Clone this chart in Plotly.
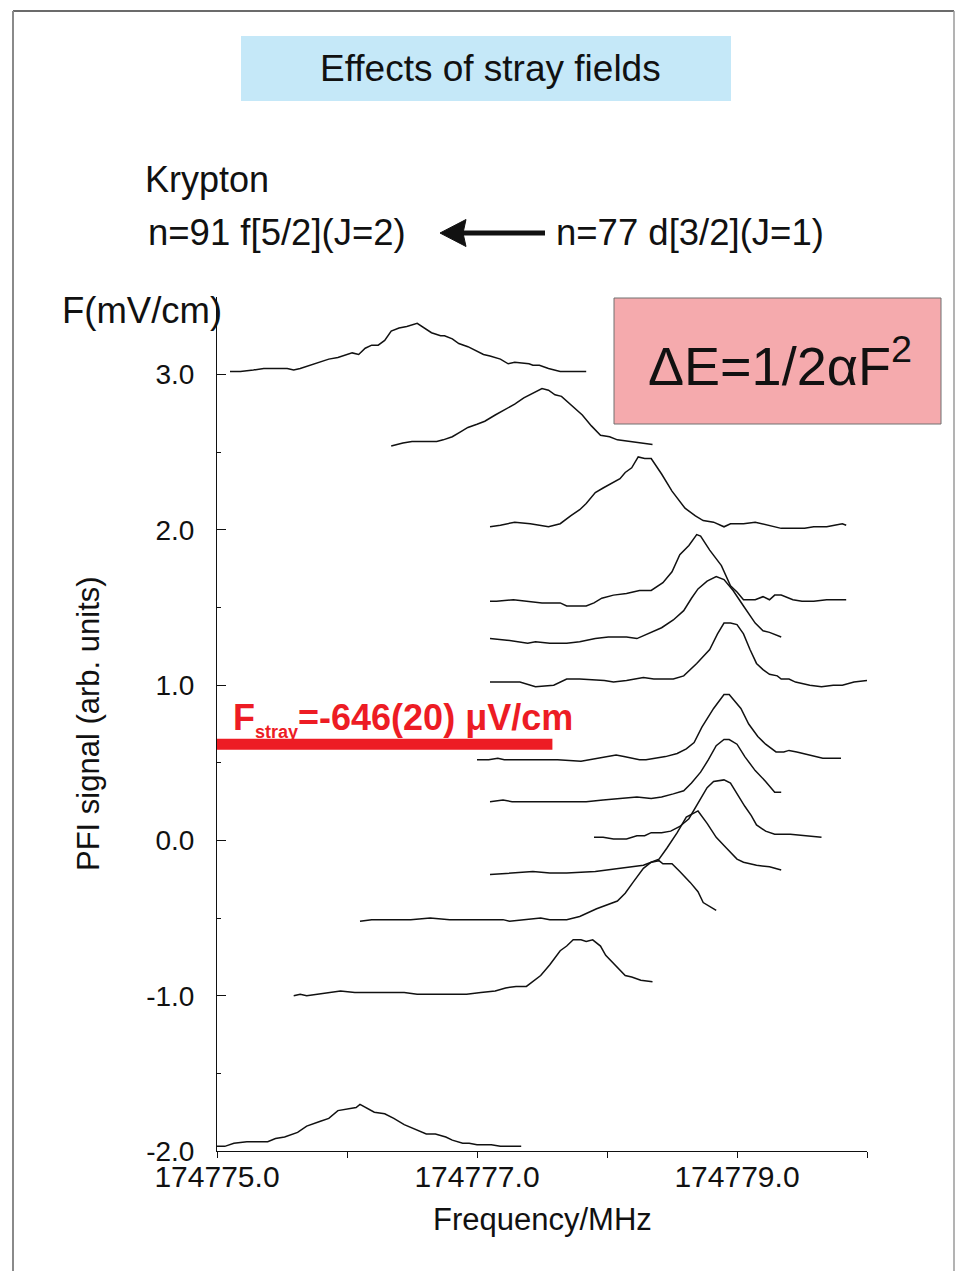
import plotly.graph_objects as go

# Frequency axis origin (MHz); trace frequencies are stored as offsets from it
F0 = 174775.0

# PFI spectra, one per stray-field setting, top to bottom
f1 = [0.10, 0.18, 0.28, 0.36, 0.54, 0.59, 0.64, 0.72, 0.79, 0.86, 0.93, 1.00, 1.04, 1.09, 1.14, 1.19, 1.24, 1.29, 1.34, 1.40, 1.46, 1.54, 1.59, 1.65, 1.72, 1.75, 1.81, 1.86, 1.93, 1.98, 2.05, 2.10, 2.18, 2.24, 2.29, 2.40, 2.43, 2.48, 2.55, 2.64, 2.84]
s1 = [3.02, 3.02, 3.03, 3.04, 3.04, 3.03, 3.04, 3.06, 3.08, 3.10, 3.11, 3.13, 3.14, 3.13, 3.17, 3.19, 3.19, 3.22, 3.28, 3.30, 3.31, 3.33, 3.30, 3.27, 3.25, 3.25, 3.23, 3.20, 3.18, 3.16, 3.13, 3.12, 3.10, 3.07, 3.08, 3.07, 3.06, 3.06, 3.04, 3.02, 3.02]

f2 = [1.34, 1.43, 1.50, 1.57, 1.69, 1.74, 1.81, 1.87, 1.93, 2.00, 2.06, 2.14, 2.23, 2.29, 2.36, 2.43, 2.50, 2.55, 2.60, 2.65, 2.72, 2.81, 2.88, 2.95, 3.02, 3.08, 3.35]
s2 = [2.54, 2.56, 2.57, 2.57, 2.57, 2.58, 2.60, 2.63, 2.66, 2.68, 2.70, 2.74, 2.78, 2.81, 2.85, 2.88, 2.91, 2.90, 2.87, 2.86, 2.81, 2.74, 2.67, 2.61, 2.60, 2.58, 2.55]

f3 = [2.10, 2.18, 2.29, 2.41, 2.55, 2.64, 2.72, 2.79, 2.84, 2.91, 2.97, 3.04, 3.10, 3.14, 3.19, 3.24, 3.29, 3.34, 3.42, 3.50, 3.60, 3.68, 3.74, 3.82, 3.90, 3.95, 4.05, 4.14, 4.23, 4.34, 4.45, 4.52, 4.59, 4.69, 4.75, 4.81, 4.84]
s3 = [2.02, 2.03, 2.05, 2.04, 2.02, 2.04, 2.09, 2.13, 2.17, 2.24, 2.27, 2.30, 2.33, 2.37, 2.40, 2.47, 2.46, 2.46, 2.36, 2.25, 2.14, 2.09, 2.06, 2.05, 2.02, 2.04, 2.04, 2.05, 2.03, 2.01, 2.01, 2.01, 2.02, 2.02, 2.03, 2.04, 2.03]

f4 = [2.10, 2.15, 2.28, 2.41, 2.50, 2.64, 2.69, 2.84, 2.90, 2.96, 3.05, 3.15, 3.25, 3.34, 3.43, 3.50, 3.56, 3.63, 3.69, 3.72, 3.79, 3.88, 3.95, 4.00, 4.05, 4.10, 4.14, 4.20, 4.25, 4.29, 4.34, 4.43, 4.50, 4.59, 4.69, 4.78, 4.84]
s4 = [1.54, 1.54, 1.55, 1.54, 1.53, 1.53, 1.51, 1.51, 1.53, 1.56, 1.58, 1.59, 1.61, 1.61, 1.66, 1.73, 1.84, 1.90, 1.97, 1.96, 1.87, 1.77, 1.64, 1.60, 1.55, 1.55, 1.55, 1.57, 1.55, 1.58, 1.58, 1.55, 1.54, 1.54, 1.55, 1.55, 1.55]

f5 = [2.10, 2.23, 2.39, 2.45, 2.56, 2.69, 2.79, 2.91, 3.01, 3.15, 3.23, 3.31, 3.42, 3.51, 3.59, 3.65, 3.70, 3.77, 3.84, 3.90, 3.97, 4.05, 4.14, 4.20, 4.25, 4.34]
s5 = [1.30, 1.29, 1.27, 1.28, 1.27, 1.27, 1.28, 1.30, 1.31, 1.31, 1.30, 1.33, 1.37, 1.42, 1.48, 1.56, 1.62, 1.67, 1.70, 1.68, 1.61, 1.51, 1.40, 1.35, 1.34, 1.31]

f6 = [2.10, 2.18, 2.33, 2.45, 2.59, 2.69, 2.79, 2.98, 3.05, 3.15, 3.23, 3.28, 3.36, 3.42, 3.51, 3.59, 3.69, 3.79, 3.85, 3.90, 3.95, 4.00, 4.05, 4.10, 4.15, 4.20, 4.25, 4.31, 4.34, 4.40, 4.45, 4.56, 4.65, 4.74, 4.81, 4.90, 5.00]
s6 = [1.02, 1.02, 1.02, 0.99, 1.00, 1.04, 1.04, 1.03, 1.02, 1.03, 1.04, 1.05, 1.04, 1.04, 1.04, 1.06, 1.14, 1.23, 1.33, 1.40, 1.40, 1.39, 1.33, 1.23, 1.14, 1.10, 1.07, 1.06, 1.04, 1.04, 1.02, 1.00, 0.99, 1.00, 1.00, 1.02, 1.03]

f7 = [2.00, 2.09, 2.16, 2.21, 2.29, 2.44, 2.52, 2.62, 2.80, 2.87, 2.98, 3.07, 3.13, 3.25, 3.30, 3.37, 3.45, 3.54, 3.61, 3.67, 3.73, 3.82, 3.90, 3.94, 4.03, 4.09, 4.16, 4.22, 4.30, 4.36, 4.40, 4.46, 4.57, 4.66, 4.80]
s7 = [0.52, 0.52, 0.53, 0.52, 0.52, 0.52, 0.52, 0.52, 0.51, 0.52, 0.54, 0.55, 0.54, 0.52, 0.52, 0.53, 0.54, 0.56, 0.59, 0.63, 0.73, 0.85, 0.94, 0.94, 0.85, 0.75, 0.67, 0.62, 0.57, 0.57, 0.58, 0.57, 0.55, 0.53, 0.53]

f8 = [2.10, 2.20, 2.27, 2.46, 2.56, 2.69, 2.84, 2.97, 3.10, 3.23, 3.34, 3.42, 3.51, 3.59, 3.65, 3.72, 3.78, 3.84, 3.90, 3.94, 4.00, 4.06, 4.14, 4.22, 4.29, 4.34]
s8 = [0.25, 0.26, 0.25, 0.25, 0.25, 0.25, 0.25, 0.26, 0.27, 0.28, 0.27, 0.28, 0.30, 0.32, 0.37, 0.44, 0.52, 0.61, 0.65, 0.65, 0.62, 0.54, 0.45, 0.38, 0.31, 0.31]

f9 = [2.90, 2.97, 3.05, 3.15, 3.23, 3.29, 3.34, 3.42, 3.49, 3.56, 3.63, 3.70, 3.77, 3.82, 3.90, 3.95, 4.00, 4.06, 4.11, 4.15, 4.22, 4.29, 4.41, 4.51, 4.65]
s9 = [0.02, 0.02, 0.01, 0.01, 0.03, 0.03, 0.05, 0.05, 0.06, 0.09, 0.14, 0.24, 0.34, 0.38, 0.39, 0.37, 0.30, 0.22, 0.16, 0.10, 0.06, 0.04, 0.04, 0.03, 0.02]

f10 = [2.10, 2.25, 2.43, 2.56, 2.69, 2.91, 3.08, 3.18, 3.28, 3.34, 3.40, 3.46, 3.54, 3.61, 3.70, 3.77, 3.84, 3.92, 4.00, 4.05, 4.15, 4.25, 4.34]
s10 = [-0.22, -0.21, -0.20, -0.21, -0.21, -0.20, -0.18, -0.17, -0.16, -0.14, -0.12, -0.05, 0.05, 0.15, 0.19, 0.11, 0.02, -0.05, -0.12, -0.14, -0.16, -0.17, -0.19]

f11 = [1.10, 1.19, 1.33, 1.49, 1.64, 1.79, 1.95, 2.05, 2.20, 2.25, 2.36, 2.49, 2.56, 2.69, 2.79, 2.92, 3.08, 3.14, 3.20, 3.28, 3.34, 3.40, 3.43, 3.50, 3.56, 3.64, 3.70, 3.74, 3.84]
s11 = [-0.52, -0.51, -0.51, -0.51, -0.50, -0.51, -0.51, -0.51, -0.51, -0.52, -0.51, -0.50, -0.51, -0.51, -0.49, -0.44, -0.39, -0.34, -0.27, -0.18, -0.14, -0.13, -0.15, -0.15, -0.20, -0.27, -0.33, -0.40, -0.45]

f12 = [0.59, 0.64, 0.69, 0.79, 0.88, 0.95, 1.06, 1.22, 1.44, 1.54, 1.65, 1.81, 1.92, 2.03, 2.14, 2.22, 2.30, 2.38, 2.43, 2.49, 2.56, 2.64, 2.69, 2.74, 2.80, 2.84, 2.89, 2.95, 2.99, 3.07, 3.14, 3.19, 3.26, 3.35]
s12 = [-1.00, -0.99, -1.00, -0.99, -0.98, -0.97, -0.98, -0.98, -0.98, -0.99, -0.99, -0.99, -0.99, -0.98, -0.97, -0.95, -0.94, -0.94, -0.91, -0.87, -0.80, -0.71, -0.68, -0.64, -0.64, -0.65, -0.64, -0.68, -0.74, -0.81, -0.87, -0.88, -0.90, -0.91]

f13 = [0.00, 0.06, 0.13, 0.23, 0.32, 0.39, 0.45, 0.52, 0.62, 0.69, 0.79, 0.86, 0.93, 1.01, 1.07, 1.10, 1.16, 1.21, 1.29, 1.36, 1.44, 1.53, 1.61, 1.68, 1.76, 1.81, 1.89, 1.94, 2.00, 2.11, 2.18, 2.26, 2.34]
s13 = [-1.97, -1.97, -1.95, -1.94, -1.94, -1.94, -1.92, -1.91, -1.88, -1.84, -1.81, -1.79, -1.74, -1.73, -1.72, -1.70, -1.73, -1.75, -1.76, -1.79, -1.83, -1.86, -1.89, -1.89, -1.91, -1.93, -1.95, -1.95, -1.96, -1.96, -1.97, -1.97, -1.97]

# Axis ticks
x_tickvals = [174775.0, 174777.0, 174779.0]
x_ticktext = ["174775.0", "174777.0", "174779.0"]
x_minorvals = [174776.0, 174778.0, 174780.0]
y_tickvals = [-2.0, -1.0, 0.0, 1.0, 2.0, 3.0]
y_ticktext = ["-2.0", "-1.0", "0.0", "1.0", "2.0", "3.0"]
y_minorvals = [-1.5, -0.5, 0.5, 1.5, 2.5, 3.5]

# Stray-field marker level and extent
stray_level = 0.62
stray_end = 174777.58

FONT = "Liberation Sans, Arial, Helvetica, sans-serif"
INK = "#111111"

# Page geometry (px) of the plotting area, used to place slide decorations
W, H = 955, 1271
L, R, T, B = 217, 88, 297, 120
PW, PH = W - L - R, H - T - B


def xp(px):
    return (px - L) / PW


def yp(py):
    return (H - B - py) / PH


fig = go.Figure()

freqs = [f1, f2, f3, f4, f5, f6, f7, f8, f9, f10, f11, f12, f13]
sigs = [s1, s2, s3, s4, s5, s6, s7, s8, s9, s10, s11, s12, s13]
for fx, sy in zip(freqs, sigs):
    fig.add_trace(go.Scatter(
        x=[F0 + v for v in fx], y=sy, mode="lines",
        line=dict(color=INK, width=1.5), hoverinfo="skip",
        cliponaxis=False,
    ))

shapes = []
# slide frame
shapes.append(dict(type="line", xref="paper", yref="paper",
                   x0=xp(13), x1=xp(954), y0=yp(11), y1=yp(11),
                   line=dict(color="#3a3a3a", width=1.5)))
shapes.append(dict(type="line", xref="paper", yref="paper",
                   x0=xp(13), x1=xp(13), y0=yp(11), y1=yp(1275),
                   line=dict(color="#8a8a8a", width=2)))
shapes.append(dict(type="line", xref="paper", yref="paper",
                   x0=xp(954), x1=xp(954), y0=yp(11), y1=yp(1275),
                   line=dict(color="#9a9a9a", width=1.5)))
# title banner
shapes.append(dict(type="rect", xref="paper", yref="paper",
                   x0=xp(241), x1=xp(731), y0=yp(101), y1=yp(36),
                   fillcolor="#C5E8F8", line=dict(width=0)))
# formula box
shapes.append(dict(type="rect", xref="paper", yref="paper",
                   x0=xp(614), x1=xp(941), y0=yp(424), y1=yp(298),
                   fillcolor="#F5AAAD", line=dict(color="#707070", width=1)))
# transition arrow
shapes.append(dict(type="line", xref="paper", yref="paper",
                   x0=xp(462), x1=xp(545), y0=yp(233), y1=yp(233),
                   line=dict(color=INK, width=5)))
shapes.append(dict(type="path", xref="paper", yref="paper",
                   path=(f"M {xp(440)},{yp(233)} L {xp(466)},{yp(219.5)} "
                         f"L {xp(463)},{yp(233)} L {xp(466)},{yp(246.5)} Z"),
                   fillcolor=INK, line=dict(color=INK, width=1)))
# stray-field marker bar
shapes.append(dict(type="line", xref="x", yref="y",
                   x0=F0, x1=stray_end, y0=stray_level, y1=stray_level,
                   line=dict(color="#ED1C24", width=11)))

annotations = [
    dict(text="Effects of stray fields", x=xp(490), y=yp(68),
         xanchor="center", yanchor="middle", font=dict(size=37)),
    dict(text="Krypton", x=xp(143), y=yp(180),
         xanchor="left", yanchor="middle", font=dict(size=36)),
    dict(text="n=91 f[5/2](J=2)", x=xp(146), y=yp(233),
         xanchor="left", yanchor="middle", font=dict(size=36.5)),
    dict(text="n=77 d[3/2](J=1)", x=xp(554), y=yp(233),
         xanchor="left", yanchor="middle", font=dict(size=36.5)),
    dict(text="F(mV/cm)", x=xp(60), y=yp(310),
         xanchor="left", yanchor="middle", font=dict(size=36.5)),
    dict(text="ΔE=1/2αF<sup>2</sup>", x=xp(646), y=yp(362),
         xanchor="left", yanchor="middle", font=dict(size=54)),
    dict(text="<b>F<sub><span style='font-size:18px'>stray</span></sub>=-646(20) μV/cm</b>",
         x=xp(231), y=yp(719), xanchor="left", yanchor="middle",
         font=dict(size=36, color="#ED1C24")),
    dict(text="Frequency/MHz", x=xp(542), y=yp(1219),
         xanchor="center", yanchor="middle", font=dict(size=31)),
    dict(text="PFI signal (arb. units)", x=xp(88), y=yp(724),
         xanchor="center", yanchor="middle", textangle=-90, font=dict(size=31)),
]
for a in annotations:
    a.update(xref="paper", yref="paper", showarrow=False)
    a["font"].setdefault("color", INK)
    a["font"]["family"] = FONT

fig.update_layout(
    width=W, height=H,
    margin=dict(l=L, r=R, t=T, b=B, pad=0),
    paper_bgcolor="white", plot_bgcolor="white",
    showlegend=False,
    font=dict(family=FONT, color=INK),
    shapes=shapes,
    annotations=annotations,
    xaxis=dict(
        range=[F0, F0 + 5.0], tickmode="array",
        tickvals=x_tickvals, ticktext=x_ticktext,
        ticks="outside", ticklen=6, tickwidth=1, tickcolor=INK,
        showline=True, linecolor=INK, linewidth=1,
        showgrid=False, zeroline=False,
        ticklabelstandoff=-7,
        tickfont=dict(size=30, family=FONT, color=INK),
        minor=dict(tickmode="array", tickvals=x_minorvals, ticks="outside",
                   ticklen=6, tickwidth=1, tickcolor=INK, showgrid=False),
    ),
    yaxis=dict(
        range=[-2.0, 3.5], tickmode="array",
        tickvals=y_tickvals, ticktext=y_ticktext,
        ticks="inside", ticklen=9, tickwidth=1, tickcolor=INK,
        showline=True, linecolor=INK, linewidth=1,
        showgrid=False, zeroline=False,
        ticklabelstandoff=16,
        tickfont=dict(size=28, family=FONT, color=INK),
        minor=dict(tickmode="array", tickvals=y_minorvals, ticks="inside",
                   ticklen=4, tickwidth=1, tickcolor=INK, showgrid=False),
    ),
)

fig.write_html("out.html")
